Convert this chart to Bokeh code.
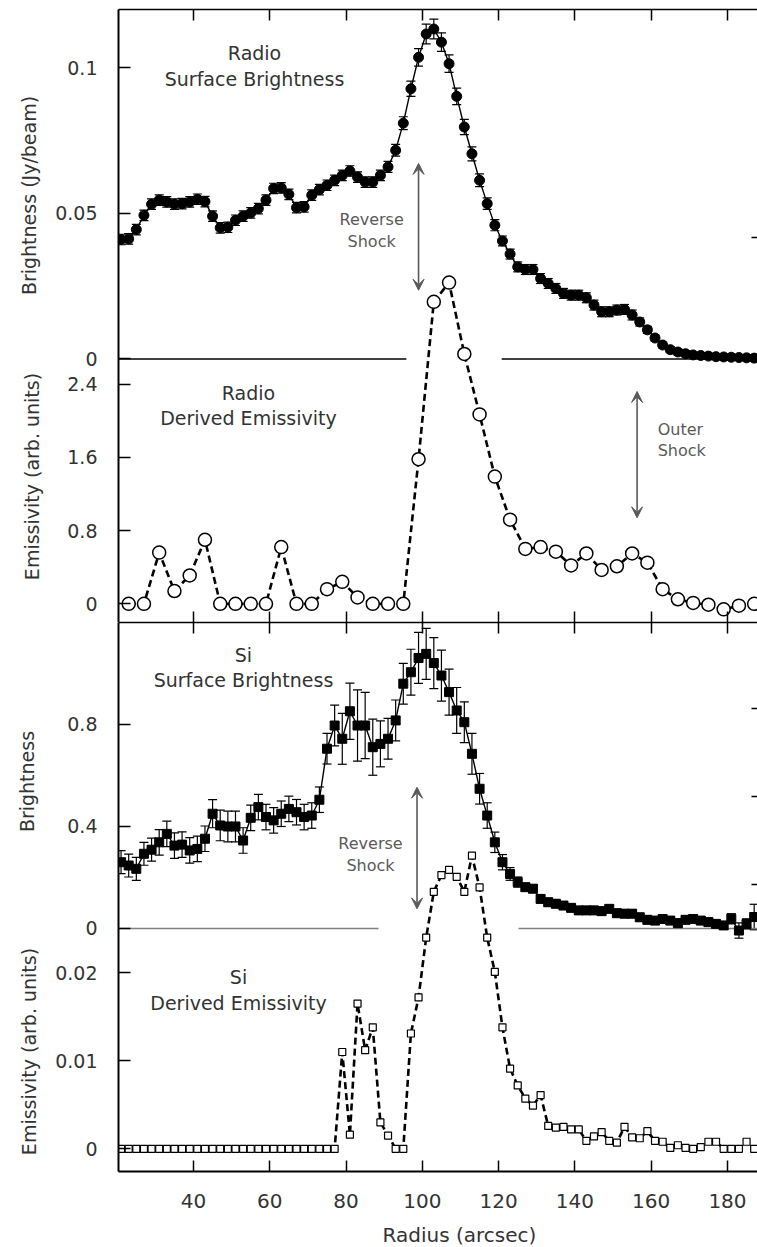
import math
from bokeh.plotting import figure
from bokeh.layouts import column, row
from bokeh.models import (Range1d, LinearAxis, FixedTicker, CustomJSTickFormatter,
                          ColumnDataSource, Whisker, TeeHead, Arrow, VeeHead, Label)
from bokeh.embed import file_html
from bokeh.resources import INLINE

FONT = "DejaVu Sans"
INK = "#333333"
GREY = "#5a5a5a"

# ---------------- data ----------------
radius_ticks = [40, 60, 80, 100, 120, 140, 160, 180]

# Radio surface brightness (Jy/beam)
radio_r = [21, 23, 25, 27, 29, 31, 33, 35, 37, 39,
           41, 43, 45, 47, 49, 51, 53, 55, 57, 59,
           61, 63, 65, 67, 69, 71, 73, 75, 77, 79,
           81, 83, 85, 87, 89, 91, 93, 95, 97, 99,
           101, 103, 105, 107, 109, 111, 113, 115, 117, 119,
           121, 123, 125, 127, 129, 131, 133, 135, 137, 139,
           141, 143, 145, 147, 149, 151, 153, 155, 157, 159,
           161, 163, 165, 167, 169, 171, 173, 175, 177, 179,
           181, 183, 185, 187]
radio_b = [0.0410, 0.0412, 0.0444, 0.0493, 0.0531, 0.0545, 0.0539, 0.0531, 0.0533, 0.0539,
           0.0548, 0.0540, 0.0490, 0.0450, 0.0452, 0.0476, 0.0490, 0.0501, 0.0516, 0.0545,
           0.0585, 0.0587, 0.0565, 0.0519, 0.0522, 0.0562, 0.0581, 0.0596, 0.0613, 0.0630,
           0.0645, 0.0624, 0.0607, 0.0607, 0.0630, 0.0659, 0.0716, 0.0809, 0.0927, 0.1035,
           0.1115, 0.1132, 0.1087, 0.1013, 0.0901, 0.0796, 0.0704, 0.0613, 0.0533, 0.0459,
           0.0405, 0.0360, 0.0316, 0.0307, 0.0307, 0.0276, 0.0259, 0.0242, 0.0225, 0.0219,
           0.0219, 0.0210, 0.0185, 0.0162, 0.0162, 0.0168, 0.0170, 0.0151, 0.0127, 0.0100,
           0.0072, 0.0048, 0.0032, 0.0024, 0.0018, 0.0014, 0.0012, 0.0010, 0.0008, 0.0007,
           0.0006, 0.0005, 0.0004, 0.0003]
radio_err = [0.0018, 0.0018, 0.0018, 0.0018, 0.0018, 0.0018, 0.0018, 0.0018, 0.0018, 0.0018,
             0.0018, 0.0018, 0.0018, 0.0018, 0.0018, 0.0018, 0.0018, 0.0018, 0.0018, 0.0018,
             0.0018, 0.0018, 0.0018, 0.0018, 0.0018, 0.0018, 0.0018, 0.0018, 0.0018, 0.0018,
             0.0018, 0.0018, 0.0018, 0.0018, 0.0018, 0.0019, 0.0020, 0.0022, 0.0026, 0.0030,
             0.0034, 0.0034, 0.0032, 0.0030, 0.0028, 0.0026, 0.0024, 0.0022, 0.0020, 0.0019,
             0.0017, 0.0017, 0.0017, 0.0017, 0.0017, 0.0017, 0.0017, 0.0017, 0.0017, 0.0017,
             0.0017, 0.0017, 0.0017, 0.0017, 0.0017, 0.0017, 0.0017, 0.0017, 0.0014, 0.0012,
             0.0010, 0.0010, 0.0010, 0.0010, 0.0010, 0.0010, 0.0010, 0.0010, 0.0010, 0.0010,
             0.0010, 0.0010, 0.0010, 0.0010]

# Radio derived emissivity (arb. units)
radio_emis_r = [23, 27, 31, 35, 39, 43, 47, 51, 55, 59, 63, 67, 71, 75, 79, 83, 87, 91, 95, 99,
                103, 107, 111, 115, 119, 123, 127, 131, 135, 139, 143, 147, 151, 155, 159, 163,
                167, 171, 175, 179, 183, 187]
radio_emis = [0.0, 0.0, 0.56, 0.14, 0.31, 0.70, 0.0, 0.0, 0.0, 0.0, 0.62, 0.0, 0.0, 0.16, 0.24,
              0.07, 0.0, 0.0, 0.0, 1.58, 3.30, 3.51, 2.73, 2.07, 1.39, 0.92, 0.60, 0.62, 0.57,
              0.42, 0.55, 0.37, 0.41, 0.55, 0.45, 0.16, 0.05, 0.01, -0.01, -0.06, -0.02, 0.0]

# Si surface brightness
si_r = list(radio_r)
si_b = [0.260, 0.247, 0.234, 0.293, 0.309, 0.338, 0.371, 0.325, 0.329, 0.306,
        0.312, 0.352, 0.450, 0.404, 0.400, 0.400, 0.345, 0.434, 0.476, 0.437,
        0.424, 0.450, 0.469, 0.456, 0.437, 0.443, 0.505, 0.705, 0.796, 0.744,
        0.852, 0.796, 0.796, 0.711, 0.724, 0.744, 0.816, 0.960, 1.005, 1.061,
        1.077, 1.041, 0.992, 0.927, 0.855, 0.809, 0.685, 0.548, 0.443, 0.338,
        0.260, 0.214, 0.182, 0.162, 0.156, 0.116, 0.103, 0.097, 0.090, 0.081,
        0.071, 0.071, 0.071, 0.068, 0.077, 0.060, 0.058, 0.058, 0.044, 0.034,
        0.031, 0.037, 0.031, 0.021, 0.034, 0.037, 0.031, 0.025, 0.018, 0.012,
        0.038, -0.008, 0.018, 0.045]
si_err = [0.045, 0.045, 0.045, 0.045, 0.045, 0.05, 0.05, 0.05, 0.05, 0.05,
          0.05, 0.05, 0.055, 0.06, 0.06, 0.06, 0.05, 0.05, 0.05, 0.05,
          0.05, 0.05, 0.05, 0.05, 0.05, 0.05, 0.05, 0.06, 0.08, 0.10,
          0.11, 0.14, 0.13, 0.11, 0.09, 0.08, 0.08, 0.08, 0.09, 0.10,
          0.10, 0.10, 0.10, 0.09, 0.09, 0.08, 0.08, 0.06, 0.05, 0.04,
          0.03, 0.025, 0.02, 0.015, 0.015, 0.015, 0.015, 0.015, 0.015, 0.015,
          0.015, 0.015, 0.015, 0.015, 0.015, 0.015, 0.015, 0.015, 0.015, 0.015,
          0.015, 0.015, 0.015, 0.015, 0.015, 0.015, 0.015, 0.015, 0.015, 0.015,
          0.02, 0.03, 0.02, 0.05]

# Si derived emissivity
si_emis_r = list(radio_r)
si_emis = [0.0, 0.0, 0.0, 0.0, 0.0, 0.0, 0.0, 0.0, 0.0, 0.0,
           0.0, 0.0, 0.0, 0.0, 0.0, 0.0, 0.0, 0.0, 0.0, 0.0,
           0.0, 0.0, 0.0, 0.0, 0.0, 0.0, 0.0, 0.0, 0.0, 0.0110,
           0.0016, 0.0165, 0.0112, 0.0138, 0.0030, 0.0015, 0.0, 0.0, 0.0131, 0.0172,
           0.0240, 0.0292, 0.0311, 0.0317, 0.0309, 0.0292, 0.0333, 0.0297, 0.0240, 0.0201,
           0.0138, 0.0091, 0.0072, 0.0057, 0.0049, 0.0061, 0.0026, 0.0024, 0.0025, 0.0022,
           0.0022, 0.0009, 0.0014, 0.0019, 0.0009, 0.0007, 0.0025, 0.0013, 0.0012, 0.0020,
           0.0009, 0.0008, 0.0001, 0.0004, 0.0001, 0.0, 0.0002, 0.0008, 0.0008, 0.0,
           0.0, 0.0, 0.0008, 0.0]

# axis ticks and labels
radio_b_ticks, radio_b_labels = [0, 0.05, 0.1], ["0", "0.05", "0.1"]
radio_e_ticks, radio_e_labels = [0, 0.8, 1.6, 2.4], ["0", "0.8", "1.6", "2.4"]
si_b_ticks, si_b_labels = [0, 0.4, 0.8], ["0", "0.4", "0.8"]
si_e_ticks, si_e_labels = [0, 0.01, 0.02], ["0", "0.01", "0.02"]
radio_right_ticks = [4.0]
si_right_ticks = [0.03, 0.04, 0.05]

# y-axis titles of the four sub-plots (pixel positions inside the left strip)
y_titles = ["Brightness (Jy/beam)", "Emissivity (arb. units)", "Brightness", "Emissivity (arb. units)"]
y_title_x = [28, 31, 26, 28]
y_title_y = [195, 476, 781, 1051]
# x-axis title (pixel position inside the bottom strip, which is aligned with the plot frames)
x_title = "Radius (arcsec)"
x_title_x, x_title_y = 341, 13

# zero-level baselines (drawn with gaps, as in the original)
radio_base_from, radio_base_to = [20.33, 120.8], [95.8, 187.87]
si_base_from, si_base_to = [20.33, 125.2], [88.5, 187.87]

X_RANGE = (20.33, 187.87)
STRIP_W = 50
FRAME_W = 639
BOTTOM_STRIP_H = 26


# ---------------- helpers ----------------
def frame_axis(ax, tick_len=11, line_width=2.0):
    ax.axis_line_color = "black"
    ax.axis_line_width = line_width
    ax.major_tick_line_color = "black"
    ax.major_tick_line_width = 1.5
    ax.major_tick_in = tick_len
    ax.major_tick_out = 0
    ax.minor_tick_in = 0
    ax.minor_tick_out = 0
    ax.minor_tick_line_color = None


def hide_labels(ax):
    ax.formatter = CustomJSTickFormatter(code="return '';")
    ax.major_label_text_font_size = "0px"
    ax.major_label_standoff = 0


def left_axis(p, b_ticks, b_labels, e_ticks, e_labels):
    b = p.y_range
    e = p.extra_y_ranges["emis"]
    pos = list(b_ticks) + [b.start + (v - e.start) * (b.end - b.start) / (e.end - e.start)
                           for v in e_ticks]
    labs = list(b_labels) + list(e_labels)
    fmt = CustomJSTickFormatter(args=dict(tick_pos=pos, tick_text=labs), code="""
        let best = 0, d = Infinity;
        for (let i = 0; i < tick_pos.length; i++) {
            const dd = Math.abs(tick_pos[i] - tick);
            if (dd < d) { d = dd; best = i; }
        }
        return tick_text[best];
    """)
    ax = LinearAxis(ticker=FixedTicker(ticks=pos), formatter=fmt)
    frame_axis(ax, tick_len=12)
    ax.major_label_standoff = 21
    ax.major_label_text_font = FONT
    ax.major_label_text_font_size = "19px"
    ax.major_label_text_color = INK
    p.add_layout(ax, "left")


def make_panel(frame_h, b_range, e_range, border_top, border_bottom, right_ticks):
    p = figure(frame_width=FRAME_W, frame_height=frame_h,
               x_range=Range1d(*X_RANGE), y_range=b_range,
               x_axis_type=None, y_axis_type=None,
               output_backend="svg", toolbar_location=None,
               min_border_left=118 - STRIP_W, min_border_right=0,
               min_border_top=border_top, min_border_bottom=border_bottom,
               outline_line_color=None,
               background_fill_color="white", border_fill_color="white")
    p.extra_y_ranges = {"emis": e_range}
    top_ax = LinearAxis(ticker=FixedTicker(ticks=radius_ticks))
    frame_axis(top_ax, line_width=1.6)
    hide_labels(top_ax)
    p.add_layout(top_ax, "above")
    r_ax = LinearAxis(y_range_name="emis", ticker=FixedTicker(ticks=right_ticks))
    frame_axis(r_ax, tick_len=6)
    r_ax.axis_line_color = None
    hide_labels(r_ax)
    p.add_layout(r_ax, "right")
    return p


def text_strip(w, h):
    return figure(frame_width=w, frame_height=h,
                  x_range=Range1d(0, w), y_range=Range1d(h, 0),
                  x_axis_type=None, y_axis_type=None,
                  output_backend="svg", toolbar_location=None,
                  min_border=0, outline_line_color=None,
                  background_fill_color="white", border_fill_color="white")


def text_label(p, x, y, text, size="19px", color=INK, align="center", angle=0.0, rng=None):
    kw = dict(x=x, y=y, text=text, text_font=FONT, text_font_size=size, text_color=color,
              text_align=align, text_baseline="middle", text_line_height=1.15,
              angle=angle, angle_units="rad")
    if rng:
        kw["y_range_name"] = rng
    p.add_layout(Label(**kw))


def shock_arrow(p, x, y0, y1, rng=None):
    kw = dict(x_start=x, y_start=y0, x_end=x, y_end=y1,
              start=VeeHead(size=11, fill_color=GREY, line_color=GREY, line_width=1),
              end=VeeHead(size=11, fill_color=GREY, line_color=GREY, line_width=1),
              line_color=GREY, line_width=1.6)
    if rng:
        kw["y_range_name"] = rng
    p.add_layout(Arrow(**kw))


# ---------------- top panel: radio ----------------
top = make_panel(613, Range1d(-0.0904, 0.1199), Range1d(-0.204, 6.494), 9, 0, radio_right_ticks)
left_axis(top, radio_b_ticks, radio_b_labels, radio_e_ticks, radio_e_labels)
bot_ax = LinearAxis(ticker=FixedTicker(ticks=radius_ticks))
frame_axis(bot_ax, line_width=1.3)
hide_labels(bot_ax)
top.add_layout(bot_ax, "below")

top.segment(x0=radio_base_from, y0=[0, 0], x1=radio_base_to, y1=[0, 0],
            line_color="black", line_width=1.3)

rsrc = ColumnDataSource(dict(x=radio_r, y=radio_b,
                             upper=[v + e for v, e in zip(radio_b, radio_err)],
                             lower=[v - e for v, e in zip(radio_b, radio_err)]))
top.add_layout(Whisker(source=rsrc, base="x", upper="upper", lower="lower",
                       line_color="black", line_width=1.2,
                       upper_head=TeeHead(size=9, line_color="black", line_width=1.2),
                       lower_head=TeeHead(size=9, line_color="black", line_width=1.2)))
top.line("x", "y", source=rsrc, line_color="black", line_width=1.4)
top.scatter("x", "y", source=rsrc, marker="circle", size=10, fill_color="black", line_color="black")

top.line(radio_emis_r, radio_emis, y_range_name="emis", line_color="black",
         line_width=2.6, line_dash="7 4")
top.scatter(radio_emis_r, radio_emis, y_range_name="emis", marker="circle", size=13,
            fill_color="white", line_color="black", line_width=1.5)

text_label(top, 56.0, 0.1005, "Radio\nSurface Brightness")
text_label(top, 54.4, 2.17, "Radio\nDerived Emissivity", rng="emis")
text_label(top, 86.7, 0.0442, "Reverse\nShock", size="16px", color=GREY)
text_label(top, 161.7, 1.79, "Outer\nShock", size="16px", color=GREY, align="left", rng="emis")
shock_arrow(top, 99.0, 0.0671, 0.0236)
shock_arrow(top, 156.3, 2.32, 0.94, rng="emis")

# ---------------- bottom panel: Si ----------------
bottom = make_panel(549, Range1d(-0.953, 1.2), Range1d(-0.00258, 0.0598), 0, 50, si_right_ticks)
left_axis(bottom, si_b_ticks, si_b_labels, si_e_ticks, si_e_labels)
x_ax = LinearAxis(ticker=FixedTicker(ticks=radius_ticks))
frame_axis(x_ax, line_width=2.0)
x_ax.major_label_standoff = 22
x_ax.major_label_text_font = FONT
x_ax.major_label_text_font_size = "20px"
x_ax.major_label_text_color = INK
bottom.add_layout(x_ax, "below")

bottom.segment(x0=si_base_from, y0=[0, 0], x1=si_base_to, y1=[0, 0],
               line_color="#808080", line_width=1.6)

ssrc = ColumnDataSource(dict(x=si_r, y=si_b,
                             upper=[v + e for v, e in zip(si_b, si_err)],
                             lower=[v - e for v, e in zip(si_b, si_err)]))
bottom.add_layout(Whisker(source=ssrc, base="x", upper="upper", lower="lower",
                          line_color="black", line_width=1.2,
                          upper_head=TeeHead(size=9, line_color="black", line_width=1.2),
                          lower_head=TeeHead(size=9, line_color="black", line_width=1.2)))
bottom.line("x", "y", source=ssrc, line_color="black", line_width=1.4)
bottom.scatter("x", "y", source=ssrc, marker="square", size=9, fill_color="black", line_color="black")

bottom.line(si_emis_r, si_emis, y_range_name="emis", line_color="black",
            line_width=2.6, line_dash="7 4")
bottom.scatter(si_emis_r, si_emis, y_range_name="emis", marker="square", size=7,
               fill_color="white", line_color="black", line_width=1.2)

text_label(bottom, 53.1, 1.024, "Si\nSurface Brightness")
text_label(bottom, 51.8, 0.01805, "Si\nDerived Emissivity", rng="emis")
text_label(bottom, 86.4, 0.29, "Reverse\nShock", size="16px", color=GREY)
shock_arrow(bottom, 98.6, 0.554, 0.077)

# ---------------- strips holding the axis titles ----------------
strip = text_strip(STRIP_W, 1247)
for t, tx, ty in zip(y_titles, y_title_x, y_title_y):
    text_label(strip, tx, ty, t, angle=math.pi / 2)

xstrip = text_strip(FRAME_W, BOTTOM_STRIP_H)
text_label(xstrip, x_title_x, x_title_y, x_title, size="20px")

layout = row(strip, column(top, bottom, xstrip))
open("out.html", "w").write(file_html(layout, INLINE))
